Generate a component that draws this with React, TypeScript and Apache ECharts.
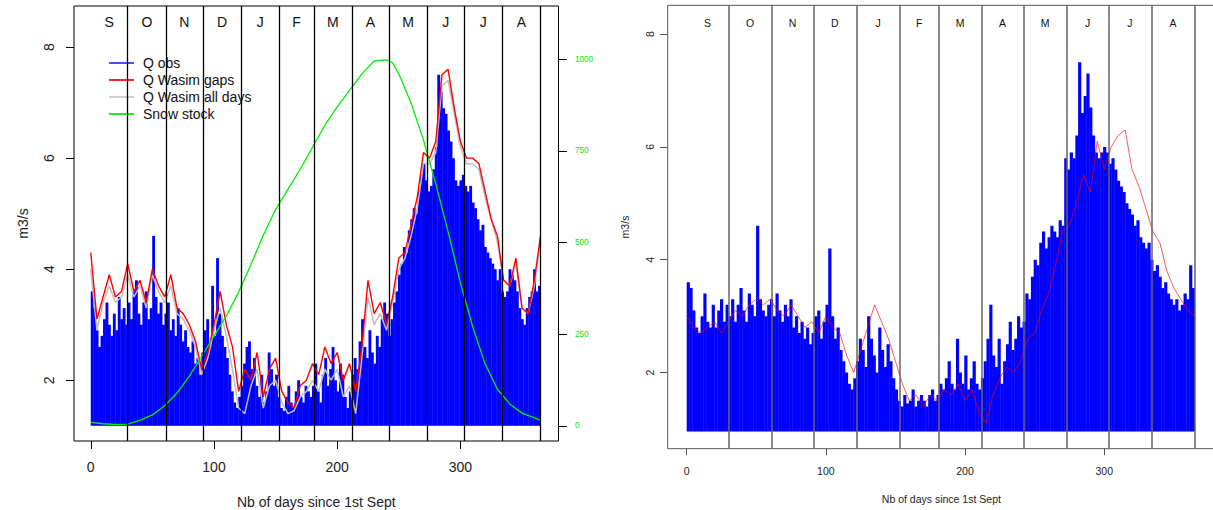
import React, { useEffect, useRef } from 'react';
import * as echarts from 'echarts';

const FONT = 'Liberation Sans';

const monthLetters = ['S', 'O', 'N', 'D', 'J', 'F', 'M', 'A', 'M', 'J', 'J', 'A'];
const monthEnds = [30, 61, 91, 122, 153, 181, 212, 242, 273, 303, 334, 365];
const xTicks = [0, 100, 200, 300];
const qTicks = [2, 4, 6, 8];
const snowTicks = [0, 250, 500, 750, 1000];

// Left panel: observed discharge, ~2-day resolution over the year (m3/s)
const leftObs = [
  3.6, 3.3, 2.9, 2.6, 2.8, 3.1, 3.4, 3.0, 2.8, 3.2, 2.9, 3.5, 3.1, 3.3, 3.0,
  3.4, 3.1, 3.6, 3.8, 3.2, 3.0, 3.4, 3.6, 3.1, 3.3, 4.6, 3.5, 3.2, 3.4, 3.0,
  3.2, 3.4, 2.9, 3.1, 2.8, 3.3, 3.0, 2.7, 2.9, 2.6, 2.5, 2.7, 2.3, 2.4, 2.1,
  2.5, 2.9, 3.1, 2.6, 3.7, 2.8, 4.2, 3.2, 2.8, 2.6, 2.4, 2.1, 1.8, 1.6, 1.5, 1.7,
  1.9, 2.3, 2.6, 2.7, 2.2, 2.4, 1.9, 1.7, 2.1, 1.6, 1.8, 2.5, 2.2, 1.9, 2.1,
  1.7, 1.5, 1.45, 1.7, 1.9, 1.6, 1.5, 1.8, 2.0, 1.7, 1.6, 1.9, 1.8, 1.7,
  1.9, 2.3, 1.8, 1.6, 2.1, 2.4, 1.9, 2.2, 2.6, 2.0, 1.8, 2.3, 2.1, 1.7, 1.5, 1.8,
  2.1, 2.4, 2.2, 2.7, 3.1, 2.6, 2.4, 2.9, 2.5, 2.3, 2.8, 2.6, 3.1, 3.4, 3.2,
  2.8, 3.1, 3.4, 3.6, 3.9, 4.1, 4.4, 4.3, 4.7, 4.9, 5.1, 5.0, 5.4, 5.7, 5.9,
  5.6, 5.4, 5.5, 5.8, 6.2, 7.5, 7.2, 6.9, 6.8, 6.5, 6.3, 6.0, 5.6, 5.5, 5.6,
  5.7, 5.5, 5.4, 5.5, 5.2, 5.1, 4.9, 4.7, 4.8, 4.4, 4.3, 4.2, 4.1, 4.0, 3.8, 4.0,
  3.6, 3.5, 3.6, 4.0, 3.9, 3.8, 3.6, 3.3, 3.1, 3.0, 3.3, 3.5, 3.6, 4.0, 3.6, 3.7,
];
// Left panel simulated lines, every 5 days (day 0 .. 365)
const leftGaps = [
  4.3, 3.1, 3.5, 3.9, 3.5, 3.6, 4.1, 3.6, 3.8, 3.4,
  4.0, 3.7, 3.5, 3.9, 3.3, 3.2, 3.0, 2.7, 2.2, 2.5,
  3.0, 3.6, 3.0, 2.6, 1.8, 2.2, 2.0, 2.5, 1.7, 2.2,
  2.4, 1.8, 1.6, 1.5, 1.9, 2.0, 2.3, 2.1, 2.6, 2.3,
  2.5, 2.0, 2.3, 1.8, 2.6, 3.8, 3.2, 3.4, 3.0, 3.5,
  4.2, 4.3, 4.8, 5.3, 6.1, 6.0, 6.3, 7.5, 7.6, 6.9,
  6.3, 6.0, 6.0, 5.9, 5.4, 4.9, 4.6, 3.8, 3.7, 4.2,
  3.3, 3.2, 3.8, 4.6,
];
const leftAll = [
  4.0, 2.9, 3.4, 3.7, 3.4, 3.5, 3.9, 3.5, 3.7, 3.3,
  3.9, 3.6, 3.4, 3.7, 3.2, 3.1, 2.9, 2.6, 2.1, 2.4,
  2.9, 3.3, 2.8, 2.2, 1.5, 1.4, 1.9, 2.2, 1.5, 1.9,
  2.0, 1.6, 1.4, 1.45, 1.7, 1.8, 2.0, 1.8, 2.2, 2.0,
  2.2, 1.7, 1.9, 1.4, 2.4, 3.5, 3.0, 3.2, 2.9, 3.4,
  4.0, 4.2, 4.6, 5.1, 5.9, 5.9, 6.1, 7.3, 7.4, 6.8,
  6.2, 5.9, 5.9, 5.8, 5.3, 4.9, 4.5, 3.8, 3.7, 4.1,
  3.3, 3.2, 3.7, 4.5,
];
const snowDays = [0, 10, 20, 30, 40, 50, 60, 70, 80, 90, 100, 110, 120, 130, 140, 150, 160, 170, 180, 190, 200, 210, 220, 230, 240, 245, 250, 260, 270, 280, 290, 300, 310, 320, 330, 340, 350, 365];
const snowStock = [10, 6, 4, 5, 15, 30, 55, 90, 135, 190, 245, 300, 365, 440, 520, 590, 645, 700, 760, 820, 870, 915, 960, 995, 998, 990, 960, 880, 780, 660, 530, 390, 270, 170, 100, 60, 35, 16];

// Right panel: observed discharge (~2-day) and simulation (every 5 days)
const rightObs = [
  3.6, 3.5, 3.1, 2.8, 2.7, 3.0, 3.4, 2.9, 2.8, 3.2, 2.8, 3.1, 3.3, 2.9, 3.2,
  3.0, 3.3, 2.9, 3.2, 3.5, 3.1, 2.9, 3.4, 3.2, 3.0, 4.6, 3.3, 3.1, 3.0, 3.2,
  3.3, 3.0, 3.4, 3.1, 2.9, 3.2, 3.0, 3.3, 2.8, 3.0, 2.7, 2.9, 2.6, 2.8, 2.5,
  2.7, 3.0, 3.1, 2.6, 2.9, 3.2, 4.2, 3.0, 2.6, 2.8, 2.4, 2.2, 2.0, 1.8, 1.7, 1.9,
  2.2, 2.6, 2.4, 2.1, 3.0, 2.6, 2.3, 2.0, 2.8, 2.4, 2.1, 2.5, 2.2, 1.9, 1.7,
  1.5, 1.4, 1.6, 1.45, 1.5, 1.7, 1.4, 1.5, 1.6, 1.5, 1.4, 1.6, 1.7, 1.5,
  1.6, 1.8, 1.7, 1.9, 2.2, 1.8, 1.7, 2.6, 2.0, 1.8, 2.3, 1.7, 1.9, 2.2, 1.8, 1.7,
  1.9, 2.2, 2.6, 3.2, 2.3, 2.1, 2.6, 1.8, 2.2, 2.5, 2.9, 2.4, 2.6, 3.0, 2.8,
  2.9, 3.4, 3.3, 3.7, 4.0, 3.9, 4.3, 4.5, 4.2, 4.4, 4.6, 4.5, 4.4, 4.7, 4.6,
  5.8, 5.6, 5.9, 5.8, 6.2, 7.5, 6.6, 6.9, 7.3, 6.7, 6.2, 5.9, 5.8, 5.9, 6.0,
  5.9, 5.7, 5.8, 5.6, 5.4, 5.3, 5.2, 5.0, 4.9, 4.8, 4.6, 4.7, 4.4, 4.3, 4.2, 4.3,
  4.0, 3.8, 3.9, 3.7, 3.5, 3.6, 3.4, 3.3, 3.2, 3.3, 3.1, 3.2, 3.4, 3.3, 3.9, 3.5,
];
const rightSim = [
  3.0, 2.8, 2.7, 2.8, 2.9, 2.7, 2.9, 3.1, 3.0, 3.2,
  3.3, 3.2, 3.3, 3.1, 3.0, 3.2, 3.0, 2.8, 2.9, 2.7,
  3.0, 2.8, 2.7, 2.3, 2.0, 2.4, 2.8, 3.2, 2.9, 2.6,
  2.2, 1.8, 1.5, 1.6, 1.4, 1.6, 1.5, 1.7, 1.6, 1.8,
  1.5, 1.7, 1.3, 1.1, 1.6, 1.9, 2.1, 2.0, 2.2, 2.6,
  2.7, 3.1, 3.4, 3.9, 4.5, 4.6, 5.0, 5.5, 5.2, 6.1,
  5.6, 6.0, 6.2, 6.3, 5.6, 5.3, 4.9, 4.5, 4.3, 3.8,
  3.5, 3.3, 3.1, 3.0,
];

const monthStarts = [0, ...monthEnds.slice(0, -1)];
const monthCenters = monthEnds.map((e, i) => (e + monthStarts[i]) / 2);
const lineDays = (arr: number[]) => arr.map((_, i) => Math.min(i * 5, 365));
const pairs = (days: number[], vals: number[]) => vals.map((v, i) => [days[i], v]);
const barPairs = (vals: number[]) => {
  const step = 365 / vals.length;
  return vals.map((v, i) => [(i + 0.5) * step, v]);
};

function barSeries(name: string, vals: number[], xi: number, yi: number, base: number) {
  const step = 365 / vals.length;
  return {
    type: 'custom',
    name,
    xAxisIndex: xi,
    yAxisIndex: yi,
    itemStyle: { color: '#0000FF' },
    clip: true,
    z: 1,
    data: barPairs(vals),
    renderItem: (params: any, api: any) => {
      const d = api.value(0);
      const v = api.value(1);
      const p0 = api.coord([d - step / 2, v]);
      const p1 = api.coord([d + step / 2, base]);
      return {
        type: 'rect',
        shape: { x: p0[0], y: p0[1], width: p1[0] - p0[0] + 0.4, height: p1[1] - p0[1] },
        style: { fill: '#0000FF' },
      };
    },
  };
}

function monthMarkLine(color: string, width: number) {
  return {
    silent: true,
    symbol: ['none', 'none'],
    label: { show: false },
    emphasis: { disabled: true },
    lineStyle: { color, width, type: 'solid' },
    data: monthEnds.map((d) => ({ xAxis: d })),
  };
}

function bottomX(gi: number, min: number, max: number, fs: number, tickLen: number, tickColor: string, margin: number, nameGap: number) {
  return {
    type: 'value', gridIndex: gi, position: 'bottom', min, max,
    axisLine: { show: false, onZero: false }, splitLine: { show: false },
    axisTick: { show: true, customValues: xTicks, length: tickLen, lineStyle: { color: tickColor, width: 1 } },
    axisLabel: { customValues: xTicks, fontSize: fs, fontFamily: FONT, color: '#222', margin },
    name: 'Nb of days since 1st Sept', nameLocation: 'middle', nameGap,
    nameTextStyle: { fontSize: fs, fontFamily: FONT, color: '#222' },
  };
}

function topX(gi: number, min: number, max: number, fs: number, margin: number) {
  return {
    type: 'value', gridIndex: gi, position: 'top', min, max,
    axisLine: { show: false, onZero: false }, axisTick: { show: false }, splitLine: { show: false },
    axisLabel: {
      inside: true, customValues: monthCenters, fontSize: fs, fontFamily: FONT, color: '#111', margin,
      formatter: (v: number) => {
        const i = monthCenters.findIndex((c) => Math.abs(c - v) < 0.01);
        return i >= 0 ? monthLetters[i] : '';
      },
    },
  };
}

function qY(gi: number, min: number, max: number, fs: number, tickLen: number, tickColor: string, margin: number, nameGap: number) {
  return {
    type: 'value', gridIndex: gi, position: 'left', min, max,
    axisLine: { show: false, onZero: false }, splitLine: { show: false },
    axisTick: { show: true, customValues: qTicks, length: tickLen, lineStyle: { color: tickColor, width: 1 } },
    axisLabel: { customValues: qTicks, rotate: 90, fontSize: fs, fontFamily: FONT, color: '#222', margin },
    name: 'm3/s', nameLocation: 'middle', nameRotate: 90, nameGap,
    nameTextStyle: { fontSize: fs, fontFamily: FONT, color: '#222' },
  };
}

export default function App() {
  const ref = useRef<HTMLDivElement>(null);
  useEffect(() => {
    if (!ref.current) return;
    const chart = echarts.init(ref.current, null, { renderer: 'svg' });
    const ld = lineDays(leftGaps);
    const rd = lineDays(rightSim);
    chart.setOption({
      animation: false,
      backgroundColor: '#ffffff',
      grid: [
        { left: 74, top: 6, width: 484.5, height: 435, show: true, borderColor: '#000', borderWidth: 1, backgroundColor: 'transparent', containLabel: false, outerBoundsMode: 'none' },
        { left: 667.7, top: 5.3, width: 547.3, height: 443.4, show: true, borderColor: '#555', borderWidth: 1, backgroundColor: 'transparent', containLabel: false, outerBoundsMode: 'none' },
      ],
      xAxis: [
        bottomX(0, -13.6, 379.6, 14, 8, '#000', 19, 54),
        topX(0, -13.6, 379.6, 14, 9),
        bottomX(1, -13.65, 379.6, 10.5, 6.5, '#555', 17, 45),
        topX(1, -13.65, 379.6, 10.5, 12.5),
      ],
      yAxis: [
        qY(0, 0.906, 8.74, 14, 8, '#000', 18, 44),
        {
          type: 'value', gridIndex: 0, position: 'right', min: -41, max: 1145,
          axisLine: { show: false, onZero: false }, splitLine: { show: false },
          axisTick: { show: true, customValues: snowTicks, length: 8.5, lineStyle: { color: '#000', width: 1 } },
          axisLabel: { customValues: snowTicks, fontSize: 8.2, fontFamily: FONT, color: '#00EE00', margin: 16.5, formatter: (v: number) => String(v) },
        },
        qY(1, 0.65, 8.51, 10.5, 7.7, '#555', 12.5, 37),
      ],
      legend: {
        orient: 'vertical', left: 104, top: 51, itemWidth: 25, itemHeight: 2, itemGap: 3,
        selectedMode: false,
        textStyle: { fontSize: 14, fontFamily: FONT, color: '#111', lineHeight: 14, padding: [0, 0, 0, 4] },
        data: [
          { name: 'Q obs', icon: 'rect', itemStyle: { color: '#4d4dff' } },
          { name: 'Q Wasim gaps', icon: 'rect', itemStyle: { color: '#ff2222' } },
          { name: 'Q Wasim all days', icon: 'rect', itemStyle: { color: '#cfcfcf' } },
          { name: 'Snow stock', icon: 'rect', itemStyle: { color: '#22ee22' } },
        ],
      },
      series: [
        barSeries('Q obs', leftObs, 0, 0, 1.18),
        {
          type: 'line', name: 'Q Wasim all days', xAxisIndex: 0, yAxisIndex: 0, symbol: 'none', z: 3,
          itemStyle: { color: '#BEBEBE' }, lineStyle: { color: '#BEBEBE', width: 1.5 },
          data: pairs(ld, leftAll),
        },
        {
          type: 'line', name: 'Q Wasim gaps', xAxisIndex: 0, yAxisIndex: 0, symbol: 'none', z: 4,
          itemStyle: { color: '#FF0000' }, lineStyle: { color: '#FF0000', width: 1.4 },
          data: pairs(ld, leftGaps),
          markLine: monthMarkLine('#000', 1.3),
        },
        {
          type: 'line', name: 'Snow stock', xAxisIndex: 0, yAxisIndex: 1, symbol: 'none', z: 4,
          itemStyle: { color: '#00EE00' }, lineStyle: { color: '#00EE00', width: 1.3 },
          data: pairs(snowDays, snowStock),
        },
        barSeries('Q obs (right)', rightObs, 2, 2, 0.954),
        {
          type: 'line', name: 'Q Wasim (right)', xAxisIndex: 2, yAxisIndex: 2, symbol: 'none', z: 4,
          itemStyle: { color: 'rgba(255,0,0,0.65)' }, lineStyle: { color: 'rgba(255,0,0,0.65)', width: 1 },
          data: pairs(rd, rightSim),
          markLine: monthMarkLine('#666', 1.5),
        },
      ],
    });
    return () => chart.dispose();
  }, []);
  return <div ref={ref} style={{ position: 'absolute', left: 0, top: 0, width: 1213, height: 510 }} />;
}
